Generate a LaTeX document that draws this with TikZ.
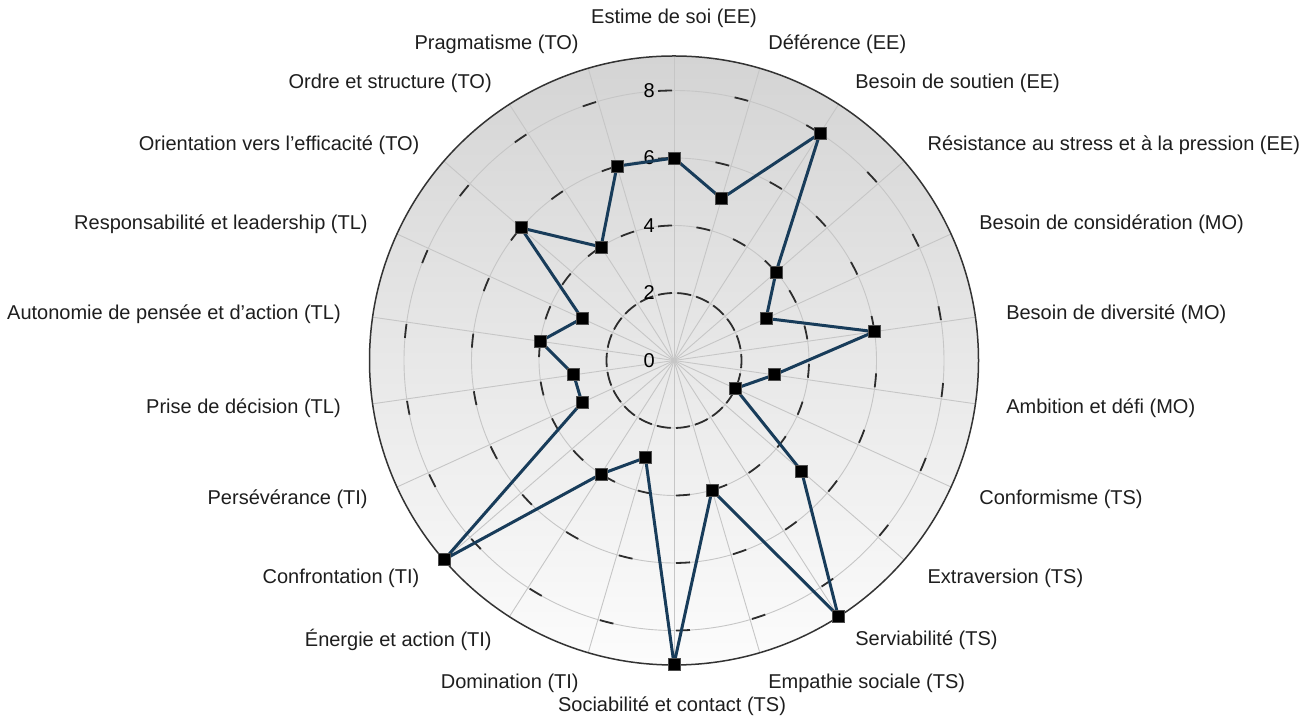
\documentclass[tikz,border=0pt]{standalone}
\usepackage{fontspec}
\setmainfont{Liberation Sans}
\definecolor{lbl}{RGB}{30,30,30}
\definecolor{gridc}{RGB}{198,198,198}
\definecolor{dashc}{RGB}{45,45,45}
\definecolor{linec}{RGB}{24,60,90}
\definecolor{bgtop}{RGB}{212,212,212}
\definecolor{bgbot}{RGB}{252,252,252}
\begin{document}
\begin{tikzpicture}[x=1pt,y=1pt,
  lab/.style={font=\fontsize{20}{24}\selectfont, text=lbl, inner sep=0pt},
  num/.style={font=\fontsize{20}{24}\selectfont, text=black, inner sep=0pt, anchor=east},
  gridline/.style={draw=gridc, line width=0.9pt},
  ringdash/.style={draw=dashc, line width=1.8pt},
  series/.style={draw=linec, line width=3pt, line join=round},
  marker/.style={rectangle, draw=black!70, fill=black, minimum size=12pt, inner sep=0pt, line width=0.8pt},
  rim/.style={draw=black!80, line width=1.5pt}]
\useasboundingbox (0,0) rectangle (1307,719);
\fill[white] (0,0) rectangle (1307,719);
\coordinate (C) at (674,358.5);
\def\U{33.75}
\def\Rout{304.5}
% background disk
\shade[top color=bgtop, bottom color=bgbot] (C) circle[radius=\Rout pt];
% grid circles
\foreach \r in {2,4,6,8} {
  \pgfmathsetmacro\R{\r*\U}
  \draw[gridline] (C) circle[radius=\R pt];
}
% radial lines
\foreach \k in {0,...,21} {
  \pgfmathsetmacro\ph{90-\k*360/22}
  \draw[gridline] (C) -- ++(\ph:\Rout pt);
}
% dashes on the even rings
\foreach \r in {2,4,6,8} {
  \foreach \k in {0,...,21} {
    \pgfmathsetmacro\R{\r*\U}
    \pgfmathsetmacro\ph{90-\k*360/22}
    \pgfmathsetmacro\a{\ph+2/\R*57.2958}
    \pgfmathsetmacro\b{\ph+16/\R*57.2958}
    \draw[ringdash] ([shift={(\a:\R pt)}]C) arc[start angle=\a, end angle=\b, radius=\R pt];
  }
}
% outer rim
\draw[rim] (C) circle[radius=\Rout pt];
% scale numbers
\foreach \n in {0,2,4,6,8} {
  \node[num] (n\n) at ([shift={(-19,\n*\U)}]C) {\n};
}
% data points
\foreach \v [count=\i from 0] in {6,5,8,4,3,6,3,2,5,9,4,9,3,4,9,3,3,4,3,6,4,6} {
  \pgfmathsetmacro\ph{90-\i*360/22}
  \pgfmathsetmacro\R{\v*\U}
  \coordinate (p\i) at ([shift={(\ph:\R pt)}]C);
}
\draw[series] (p0) \foreach \i in {1,...,21} { -- (p\i) } -- cycle;
\foreach \i in {0,...,21} {
  \node[marker] (m\i) at (p\i) {};
}
% labels
\node[lab] (l0) at (674,701) {Estime de soi (EE)};
\node[lab] (l11) at (672,13) {Sociabilité et contact (TS)};
\foreach \k/\txt/\dy in {1/{Déférence (EE)}/0, 2/{Besoin de soutien (EE)}/0,
  3/{Résistance au stress et à la pression (EE)}/0, 4/{Besoin de considération (MO)}/0,
  5/{Besoin de diversité (MO)}/0, 6/{Ambition et défi (MO)}/0, 7/{Conformisme (TS)}/0,
  8/{Extraversion (TS)}/0, 9/{Serviabilité (TS)}/0, 10/{Empathie sociale (TS)}/-4} {
  \pgfmathsetmacro\th{\k*360/22}
  \pgfmathsetmacro\lx{673.5+336*sin(\th)}
  \pgfmathsetmacro\ly{357.5+331*cos(\th)+\dy}
  \node[lab, anchor=west] (l\k) at (\lx,\ly) {\txt};
}
\foreach \k/\txt/\dy in {12/{Domination (TI)}/-4, 13/{Énergie et action (TI)}/0,
  14/{Confrontation (TI)}/0, 15/{Persévérance (TI)}/0, 16/{Prise de décision (TL)}/0,
  17/{Autonomie de pensée et d’action (TL)}/0, 18/{Responsabilité et leadership (TL)}/0,
  19/{Orientation vers l’efficacité (TO)}/0, 20/{Ordre et structure (TO)}/0,
  21/{Pragmatisme (TO)}/0} {
  \pgfmathsetmacro\th{\k*360/22}
  \pgfmathsetmacro\lx{673.5+336*sin(\th)}
  \pgfmathsetmacro\ly{357.5+331*cos(\th)+\dy}
  \node[lab, anchor=east] (l\k) at (\lx,\ly) {\txt};
}
\end{tikzpicture}
\end{document}
